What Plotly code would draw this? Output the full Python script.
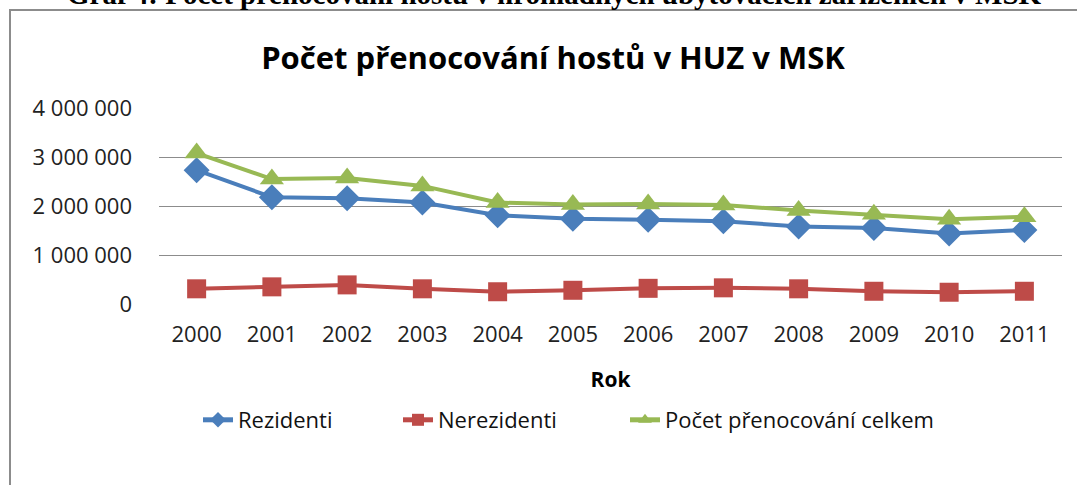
import plotly.graph_objects as go

years = ["2000", "2001", "2002", "2003", "2004", "2005", "2006", "2007", "2008", "2009", "2010", "2011"]
rezidenti = [2730000, 2180000, 2160000, 2070000, 1810000, 1740000, 1720000, 1690000, 1580000, 1550000, 1440000, 1510000]
nerezidenti = [310000, 350000, 390000, 310000, 250000, 280000, 320000, 330000, 310000, 260000, 240000, 260000]
celkem = [3080000, 2550000, 2570000, 2410000, 2070000, 2030000, 2040000, 2020000, 1910000, 1830000, 1730000, 1780000]
y_ticks = [0, 1000000, 2000000, 3000000, 4000000]
y_tick_text = ["0", "1 000 000", "2 000 000", "3 000 000", "4 000 000"]

series_names = ["Rezidenti", "Nerezidenti", "Počet přenocování celkem"]

FONT = "Open Sans"

fig = go.Figure()
fig.add_trace(go.Scatter(x=years, y=rezidenti, name=series_names[0], mode="lines+markers",
                         line=dict(color="#4A7EBB", width=4), legend="legend",
                         marker=dict(symbol="diamond", size=20, color="#4A7EBB")))
fig.add_trace(go.Scatter(x=years, y=nerezidenti, name=series_names[1], mode="lines+markers",
                         line=dict(color="#BE4B48", width=4), legend="legend2",
                         marker=dict(symbol="square", size=19, color="#BE4B48")))
fig.add_trace(go.Scatter(x=years, y=celkem, name=series_names[2], mode="lines+markers",
                         line=dict(color="#98B954", width=4), legend="legend3",
                         marker=dict(symbol="triangle-up", size=21, color="#98B954")))

L, R, T, B = 159, 15, 108, 181
W, H = 1077, 485
pw, ph = W - L - R, H - T - B

def px(xp):
    return (xp - L) / pw

def py(yp):
    return (H - B - yp) / ph

def leg(xpix):
    return dict(orientation="h", x=px(xpix), xanchor="left", xref="paper",
                y=py(420), yanchor="middle", font=dict(family=FONT, size=22, color="#111111"),
                bgcolor="rgba(0,0,0,0)", itemsizing="constant")

fig.update_layout(
    width=W, height=H,
    margin=dict(l=L, r=R, t=T, b=B),
    paper_bgcolor="white", plot_bgcolor="white",
    font=dict(family=FONT, color="#000000", size=22),
    title=dict(text="<b>Počet přenocování hostů v HUZ v MSK</b>", xref="container", x=553 / W,
               xanchor="center", yref="container", y=1 - 58 / H, yanchor="middle",
               font=dict(family=FONT, size=31, color="#000000")),
    showlegend=True,
    legend=leg(198),
    legend2=leg(398),
    legend3=leg(625),
    xaxis=dict(type="category", range=[-0.5, 11.5], showgrid=False, zeroline=False,
               showline=False, ticks="", ticklabelstandoff=15,
               tickfont=dict(family=FONT, size=22, color="#222222"),
               title=dict(text="<b>Rok</b>", font=dict(family=FONT, size=21), standoff=25)),
    yaxis=dict(range=[0, 4000000], tickvals=y_ticks, ticktext=y_tick_text,
               showgrid=True, gridcolor="#8C8C8C", gridwidth=1, zeroline=False,
               showline=False, ticks="", ticklabelstandoff=26,
               tickfont=dict(family=FONT, size=22, color="#222222")),
    shapes=[dict(type="rect", xref="paper", yref="paper",
                 x0=px(10), x1=px(1200), y0=py(600), y1=py(10),
                 line=dict(color="#8C8C8C", width=2), layer="below")],
    annotations=[dict(text="<b>Graf 4: Počet přenocování hostů v hromadných ubytovacích zařízeních v MSK</b>",
                      xref="paper", yref="paper", x=px(554), y=py(-6), xanchor="center", yanchor="middle",
                      showarrow=False, font=dict(family="Liberation Serif", size=29, color="#000000"))],
)

fig.write_html("out.html", config={"displayModeBar": False},
               post_script="document.body.style.margin='0';document.body.style.overflow='hidden';")
